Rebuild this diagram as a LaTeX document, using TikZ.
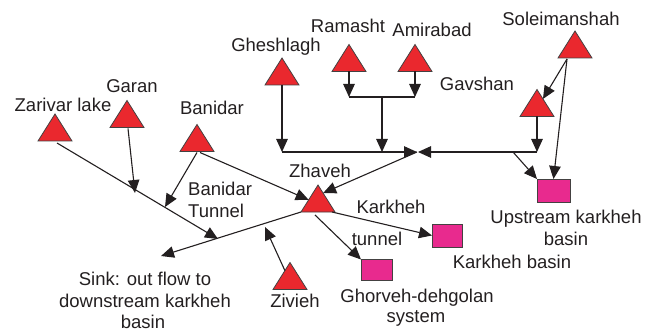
\documentclass[tikz,border=0pt]{standalone}
\usepackage{fontspec}
\setmainfont{Liberation Sans}
\usetikzlibrary{arrows.meta,calc}
\definecolor{tred}{RGB}{234,40,46}
\definecolor{bmag}{RGB}{232,42,142}
\definecolor{ink}{RGB}{35,31,32}
\newcommand{\trinode}[2]{\node[trianchor] (#1) at (#2) {};
  \filldraw[tri] (#1.north) -- (#1.south east) -- (#1.south west) -- cycle;}
\begin{document}
\begin{tikzpicture}[x=1pt,y=-1pt,
  trianchor/.style={minimum width=34pt,minimum height=27pt,inner sep=0pt,outer sep=0pt},
  tri/.style={fill=tred,draw=ink!85,line width=0.8pt,line join=miter},
  box/.style={fill=bmag,draw=ink!85,line width=0.8pt,inner sep=0pt,outer sep=0pt},
  lbl/.style={font=\fontsize{18.5}{22}\selectfont,text=ink,inner sep=0pt,anchor=base},
  flow/.style={draw=ink,line width=1.1pt,-{Triangle[length=13pt,width=11.5pt]}},
  plain/.style={draw=ink,line width=1.1pt}]
\useasboundingbox (0,0) rectangle (655,331);

% reservoirs (triangles)
\trinode{zar}{55,127.5}
\trinode{gar}{127,114}
\trinode{ban}{197,138}
\trinode{ghe}{282,71.5}
\trinode{ram}{349,58}
\trinode{ami}{415,58}
\trinode{sol}{575,44.5}
\trinode{gav}{537,103}
\trinode{zha}{318,198.5}
\trinode{ziv}{290,276}

% demand boxes
\node[box,minimum width=33pt,minimum height=23pt] (ups) at (553.5,190.5) {};
\node[box,minimum width=30pt,minimum height=23pt] (kar) at (447,235.5) {};
\node[box,minimum width=31pt,minimum height=21pt] (gho) at (376.5,270) {};

% labels
\node[lbl] (lzar) at (63,112) {Zarivar lake};
\node[lbl] (lgar) at (132,93) {Garan};
\node[lbl] (lban) at (212,115) {Banidar};
\node[lbl] (lghe) at (276,52) {Gheshlagh};
\node[lbl] (lram) at (348,33) {Ramasht};
\node[lbl] (lami) at (432,37) {Amirabad};
\node[lbl] (lsol) at (561,26) {Soleimanshah};
\node[lbl] (lgav) at (477,91) {Gavshan};
\node[lbl] (lzha) at (320,178) {Zhaveh};
\node[lbl] (lziv) at (295,307) {Zivieh};
\node[lbl,anchor=base west] (lbt1) at (188,195) {Banidar};
\node[lbl,anchor=base west] (lbt2) at (188,217) {Tunnel};
\node[lbl] (lkt1) at (391,213) {Karkheh};
\node[lbl] (lkt2) at (377,245) {tunnel};
\node[lbl] (lkar) at (512,268) {Karkheh basin};
\node[lbl] (lgho1) at (417,302) {Ghorveh-dehgolan};
\node[lbl] (lgho2) at (416,322) {system};
\node[lbl] (lups1) at (566,223) {Upstream karkheh};
\node[lbl] (lups2) at (566,245) {basin};
\node[lbl] (lsink1) at (145,285) {Sink: out flow to};
\node[lbl] (lsink2) at (145,307) {downstream karkheh};
\node[lbl] (lsink3) at (143,328.5) {basin};

% junction coordinates
\coordinate (zs) at (57,143);
\coordinate (jgar) at (135,193);
\coordinate (jban) at (165,207);
\coordinate (jzar) at (218,239);
\coordinate (sink) at (161,256);
\coordinate (jziv) at (265,227);
\coordinate (gheb) at (282,152);
\coordinate (meet) at (417,152);
\coordinate (meetr) at (418,152);
\coordinate (rb) at (349,97);
\coordinate (ab) at (415,97);
\coordinate (rab) at (382,97);
\coordinate (rabb) at (382,152);
\coordinate (gavb) at (537,152);
\coordinate (gsp) at (513,152);
\coordinate (sols) at (567,59);

% connectors
\draw[flow] (zs) -- (jzar);
\draw[flow] ($(gar.south)+(1,1)$) -- (jgar);
\draw[flow] ($(ban.south)+(0,1)$) -- (jban);
\draw[flow] ($(ban.south)+(3,1)$) -- ($(zha.north)!0.55!(zha.south west)$);
\draw[flow] (zha.south west) -- (sink);
\draw[flow] ($(ziv.north)!0.3!(ziv.south west)$) -- (jziv);
\draw[flow] (ghe.south) -- (gheb);
\draw[flow] (gheb) -- (meet);
\draw[flow] (ram.south) -- (rb);
\draw[flow] (ami.south) -- (ab);
\draw[plain] (rb) -- (ab);
\draw[flow] (rab) -- (rabb);
\draw[flow] (gav.south) -- (gavb);
\draw[flow] (gavb) -- (meetr);
\draw[flow] (gsp) -- (ups.north west);
\draw[flow] (sols) -- ($(gav.north)!0.35!(gav.south east)$);
\draw[flow] (sols) -- (ups.north);
\draw[flow] (meet) -- ($(zha.north)!0.3!(zha.south east)$);
\draw[flow] ($(zha.south east)+(-3,0)$) -- (kar.west);
\draw[flow] ($(zha.south)+(-3,3)$) -- (gho.north west);
\end{tikzpicture}
\end{document}
